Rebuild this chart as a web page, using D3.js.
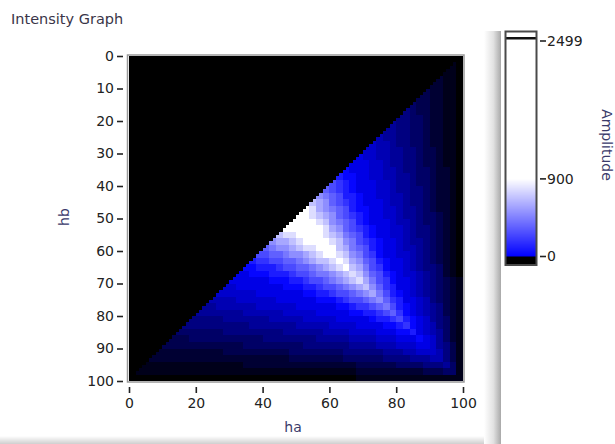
<!DOCTYPE html>
<html><head><meta charset="utf-8">
<script src="https://cdn.jsdelivr.net/npm/d3@7/dist/d3.min.js"></script>
<style>
html,body{margin:0;padding:0;background:#ffffff;}
svg text{font-family:"DejaVu Sans",Verdana,sans-serif;}
</style></head>
<body>
<svg id="chart" width="615" height="444"></svg>
<script>
// ---------- data ----------
const chartTitle = "Intensity Graph";
const xTitle = "ha";
const yTitle = "hb";
const zTitle = "Amplitude";
const xTicks = [0, 20, 40, 60, 80, 100];
const yTicks = [0, 10, 20, 30, 40, 50, 60, 70, 80, 90, 100];
const zTicks = [0, 900, 2499];
const zMax = 2499;
const cellStep = 2;               // grid spacing in ha / hb units
// amplitude code table (one character per cell)
const levelCodes  = "0123456789abcdefghijklmnopqrstuvwxyz";
const levelValues = [-1000,-900,-800,-700,-600,-500,-400,-300,-200,-100,
  20,100,180,260,340,420,500,590,680,780,900,1000,1200,1300,1400,1500,
  1600,1700,1800,1900,2000,2100,2200,2300,2400,2499];
// rows hb = 0,2,4,...; each string lists the cells that carry data, ending at ha = 98..100
const gridRows = [
 "0",
 "10",
 "110",
 "2110",
 "22110",
 "322110",
 "3322110",
 "43322110",
 "543322110",
 "5544322110",
 "65544322110",
 "665544322110",
 "7665544322110",
 "87765544322110",
 "887766554332110",
 "9887766554332110",
 "99988766554332110",
 "a99988776554432210",
 "baa9988776654432210",
 "dcba9998876654432210",
 "edcba9998876655432210",
 "gfedbba998877655432210",
 "ihgedcba999877655432210",
 "kjhgfedbaa99887665432210",
 "pljihgedcba99887665443210",
 "pz"+"nkjigfedba99987765443210",
 "klns"+"lkjhgedcba9988765543210",
 "ijjklp"+"ljihfedba9988765543210",
 "ghhijkln"+"kjigfdcba998766543210",
 "efgghijjkl"+"kihfedba998776543210",
 "ddeefgghijkl"+"jigfdca998876543210",
 "bccddeefghiijk"+"jhgedba99876543210",
 "aabbbcddeefghijk"+"ihfdca99876554210",
 "99aaabbbcddeffghij"+"igedba9887654210",
 "999999aaabbcddefghij"+"hfdca9987654321",
 "889999999aaabbcddefghi"+"gecb9987654321",
 "888888"+"9999999"+"aabbcddefgh"+"fdba987654321",
 "7777"+"888888"+"999999"+"aaabcddefg"+"ecb998754321",
 "66"+"777777"+"888888"+"999999"+"aabccdef"+"dba98765321",
 "6666666"+"777777"+"88888"+"99999"+"aabbcde"+"ca98765321",
 "55555"+"6666666"+"77777"+"88888"+"99999"+"abbcd"+"ba9865421",
 "5555555555"+"6666666"+"77777"+"8888"+"9999"+"aabc"+"a9875421",
 "4444444"+"555555555"+"666666"+"7777"+"8888"+"999"+"aab"+"9876421",
 "333"+"44444444444"+"55555555"+"66666"+"7777"+"888"+"999"+"a"+"986421",
 "333333333333"+"444444444"+"5555555"+"6666"+"777"+"888"+"99"+"86531",
 "2222222222"+"3333333333"+"44444444"+"555555"+"666"+"77"+"888"+"7531",
 "2222222222"+"2222222222"+"2"+"33333333"+"444444"+"5555"+"666"+"77"+"531",
 "1111111111"+"11111"+"2222222222"+"2222222"+"333333"+"4444"+"555"+"6"+"41",
 "1111111111"+"1111111111"+"1111111111"+"111"+"2222222222"+"333"+"44"+"1",
 "0000000000"+"0000000000"+"0000000000"+"0000"+"1111111111"+"111111"
];
// first ha index holding data in each unit row hb = 0..99 (the black staircase edge)
const firstDataHa = [99,98,97,96,95,94,93,92,91,90,89,88,87,86,85,84,83,82,81,80,
  79,78,77,76,75,74,73,72,71,70,69,68,67,66,65,64,63,62,61,60,
  59,58,57,56,55,54,53,52,51,50,49,48,47,46,45,44,43,42,41,40,
  39,38,37,36,35,34,33,32,31,30,29,28,27,26,25,24,23,22,21,20,
  19,18,17,16,15,14,13,12,11,10,9,8,7,6,5,4,3,2,1,0];

// ---------- build cells ----------
const nCols = 100 / cellStep;
const cells = [];
gridRows.forEach((row, j) => {
  const full = row.padStart(nCols, ".");
  for (let i = 0; i < nCols; i++) {
    const ch = full[i];
    cells.push({ha: i * cellStep, hb: j * cellStep,
      z: ch === "." ? null : levelValues[levelCodes.indexOf(ch)]});
  }
});

// ---------- layout ----------
const svg = d3.select("#chart");
const x = d3.scaleLinear().domain([0, 100]).range([129, 463]);
const y = d3.scaleLinear().domain([0, 100]).range([56, 381]);
const zColor = d3.scaleLinear().domain([-1000, 0, 900, zMax])
  .range(["#000000", "#0000ff", "#ffffff", "#ffffff"]).clamp(true);
const legendColor = d3.scaleLinear().domain([0, 900, zMax])
  .range(["#0000ff", "#ffffff", "#ffffff"]).clamp(true);
const zy = d3.scaleLinear().domain([0, zMax]).range([256.5, 41]);
const rx = v => Math.round(x(v)), ry = v => Math.round(y(v));

const defs = svg.append("defs");
const gV = defs.append("linearGradient").attr("id","edgeV").attr("x1","0").attr("x2","1").attr("y1","0").attr("y2","0");
gV.append("stop").attr("offset","0").attr("stop-color","#ffffff");
gV.append("stop").attr("offset","0.55").attr("stop-color","#e2e2e2");
gV.append("stop").attr("offset","1").attr("stop-color","#a9a9a9");
const gH = defs.append("linearGradient").attr("id","edgeH").attr("x1","0").attr("x2","0").attr("y1","0").attr("y2","1");
gH.append("stop").attr("offset","0").attr("stop-color","#ffffff");
gH.append("stop").attr("offset","1").attr("stop-color","#cfcfcf");

// panel edges
svg.append("rect").attr("x", 0).attr("y", 436).attr("width", 486).attr("height", 8).attr("fill", "url(#edgeH)");
svg.append("rect").attr("x", 484).attr("y", 31).attr("width", 17).attr("height", 413).attr("fill", "url(#edgeV)");

// title
svg.append("text").attr("x", 11).attr("y", 24).attr("font-size", 14.5).attr("fill", "#3a3548").text(chartTitle);

// plot background + cells
svg.append("rect").attr("x", x(0)).attr("y", y(0)).attr("width", x(100) - x(0)).attr("height", y(100) - y(0)).attr("fill", "#000");
svg.append("g").selectAll("rect").data(cells.filter(d => d.z !== null)).join("rect")
  .attr("x", d => rx(d.ha))
  .attr("y", d => ry(d.hb))
  .attr("width", d => rx(d.ha + cellStep) - rx(d.ha))
  .attr("height", d => ry(d.hb + cellStep) - ry(d.hb))
  .attr("fill", d => zColor(d.z))
  .attr("shape-rendering", "crispEdges");
// cells without data (unit rows) are drawn in the below-range colour
svg.append("g").selectAll("rect").data(firstDataHa.map((h, k) => ({hb: k, end: h}))).join("rect")
  .attr("x", rx(0))
  .attr("y", d => ry(d.hb))
  .attr("width", d => rx(d.end) - rx(0))
  .attr("height", d => ry(d.hb + 1) - ry(d.hb))
  .attr("fill", "#000")
  .attr("shape-rendering", "crispEdges");

// frame
svg.append("rect").attr("x", x(0) - 1.5).attr("y", y(0) - 1).attr("width", x(100) - x(0) + 2.5).attr("height", y(100) - y(0) + 2)
  .attr("fill", "none").attr("stroke", "#9a9a9a").attr("stroke-width", 1.5);

// axes
const yAxis = svg.append("g").attr("transform", "translate(123,0)")
  .call(d3.axisLeft(y).tickValues(yTicks).tickSize(6).tickPadding(3));
const xAxis = svg.append("g").attr("transform", "translate(0,387)")
  .call(d3.axisBottom(x).tickValues(xTicks).tickSize(6).tickPadding(5));
[yAxis, xAxis].forEach(a => {
  a.select(".domain").remove();
  a.selectAll(".tick line").attr("stroke", "#222").attr("stroke-width", 1.6);
  a.selectAll(".tick text").attr("font-size", 14).attr("fill", "#222").attr("font-family", "DejaVu Sans, sans-serif");
});

svg.append("text").attr("transform", "translate(69,217) rotate(-90)").attr("text-anchor", "middle")
  .attr("font-size", 14).attr("fill", "#3a3a6a").text(yTitle);
svg.append("text").attr("x", 293).attr("y", 432).attr("text-anchor", "middle")
  .attr("font-size", 14).attr("fill", "#3a3a6a").text(xTitle);

// colour scale legend
const lg = svg.append("g");
const lx0 = 506, lw = 30;
const rows = d3.range(Math.floor(zy(zMax)), Math.ceil(zy(0)));
lg.selectAll("rect.ramp").data(rows).join("rect").attr("class", "ramp")
  .attr("x", lx0).attr("y", d => d).attr("width", lw).attr("height", 1.05)
  .attr("fill", d => legendColor(zy.invert(d + 0.5)))
  .attr("shape-rendering", "crispEdges");
lg.append("rect").attr("x", lx0).attr("y", zy(0)).attr("width", lw).attr("height", 264.5 - zy(0)).attr("fill", "#000");
lg.append("rect").attr("x", lx0).attr("y", 32).attr("width", lw).attr("height", 5).attr("fill", "#fff");
lg.append("rect").attr("x", lx0).attr("y", 37).attr("width", lw).attr("height", 2.5).attr("fill", "#111");
lg.append("rect").attr("x", 505.5).attr("y", 31.5).attr("width", 31).attr("height", 233.5)
  .attr("fill", "none").attr("stroke", "#4a4a4a").attr("stroke-width", 2);
const zt = lg.selectAll("g.zt").data(zTicks).join("g").attr("class", "zt")
  .attr("transform", d => `translate(0,${zy(d)})`);
zt.append("line").attr("x1", 540).attr("x2", 546).attr("stroke", "#222").attr("stroke-width", 1.6);
zt.append("text").attr("x", 547).attr("dy", "0.35em").attr("font-size", 14).attr("fill", "#222").text(d => d);
svg.append("text").attr("transform", "translate(602,145) rotate(90)").attr("text-anchor", "middle")
  .attr("font-size", 14).attr("fill", "#3a3a6a").text(zTitle);
</script>
</body></html>
